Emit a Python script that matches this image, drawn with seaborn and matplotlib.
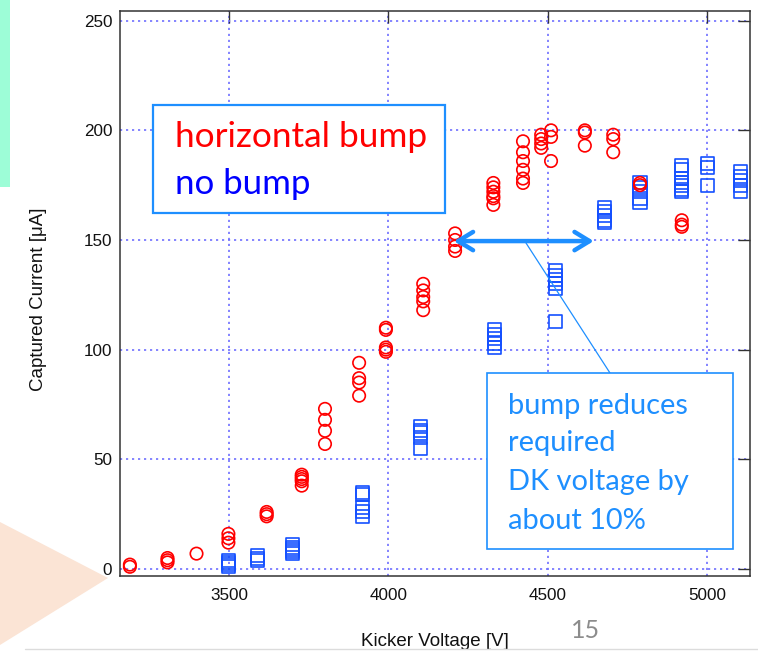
import matplotlib
matplotlib.use("Agg")
import matplotlib.pyplot as plt
import matplotlib.patches as mpatches
import matplotlib.lines as mlines
import seaborn as sns
import pandas as pd

# ---------------- data ----------------
bump_voltage = [3189, 3307, 3398, 3498, 3618, 3728, 3801, 3908, 3992, 4109,
                4209, 4329, 4422, 4479, 4510, 4616, 4705, 4789, 4920]
bump_current = [[2, 1], [5, 4, 3], [7], [16, 14, 12], [26, 25, 24],
                [43, 42, 41, 40, 38], [73, 68, 63, 57], [94, 87, 85, 79],
                [110, 109, 101, 100, 99], [130, 127, 124, 122, 118],
                [153, 150, 147, 145], [176, 174, 172, 170, 169, 166],
                [195, 190, 186, 182, 178, 176], [198, 196, 194, 192],
                [200, 197, 186], [200, 199, 193], [198, 196, 190],
                [176, 175], [159, 157, 156]]

nobump_voltage = [3498, 3590, 3700, 3919, 4102, 4332, 4525, 4679, 4789, 4920, 5002, 5105]
nobump_current = [[4, 3, 2, 1], [6, 5, 4], [11, 10, 9, 8, 7],
                  [35, 34, 28, 26, 24], [65, 63, 62, 60, 55],
                  [109, 107, 105, 103, 101], [136, 134, 132, 130, 128, 113],
                  [165, 163, 161, 159, 158], [176, 174, 172, 169, 167],
                  [184, 182, 178, 176, 175, 173, 172], [185, 183, 175],
                  [181, 179, 177, 175, 172]]

x_ticks = [3500, 4000, 4500, 5000]
y_ticks = [0, 50, 100, 150, 200, 250]
series_names = ["horizontal bump", "no bump"]
x_label = "Kicker Voltage [V]"
y_label = "Captured Current [\u03bcA]"
note_lines = ["bump reduces", "required", "DK voltage by", "about 10%"]
page_number = "15"


def expand(volts, currents, name):
    rows = []
    for v, cs in zip(volts, currents):
        for c in cs:
            rows.append({"V": v, "I": c, "series": name})
    return rows


df_bump = pd.DataFrame(expand(bump_voltage, bump_current, series_names[0]))
df_nobump = pd.DataFrame(expand(nobump_voltage, nobump_current, series_names[1]))

# ---------------- figure ----------------
sns.set_theme(style="white")
plt.rcParams["font.family"] = ["Liberation Sans", "DejaVu Sans"]

W, H = 758, 652
fig = plt.figure(figsize=(W / 100, H / 100), dpi=100)
fig.patch.set_facecolor("white")


def fx(x):
    return x / W


def fy(y):
    return 1 - y / H


ax_l, ax_r, ax_t, ax_b = 120, 750, 11, 576
ax = fig.add_axes([fx(ax_l), fy(ax_b), (ax_r - ax_l) / W, (ax_b - ax_t) / H])
ax.set_facecolor("white")

RED = "#ff0000"
BLUE = "#1450ff"

sns.scatterplot(data=df_nobump, x="V", y="I", marker="s", s=88, color=BLUE,
                ax=ax, legend=False, zorder=3)
sns.scatterplot(data=df_bump, x="V", y="I", marker="o", s=80, color=RED,
                ax=ax, legend=False, zorder=4)
for coll, col in zip(ax.collections, [BLUE, RED]):
    coll.set_facecolor("none")
    coll.set_edgecolor(col)
    coll.set_linewidth(1.2)

ax.set_xlim(3158, 5134)
ax.set_ylim(-3.2, 254.4)
ax.set_xticks(x_ticks)
ax.set_yticks(y_ticks)
ax.set_xticklabels([str(t) for t in x_ticks])
ax.set_yticklabels([str(t) for t in y_ticks])

ax.set_axisbelow(True)
ax.grid(True, color="#7070ff", linestyle=(0, (1.3, 2.3)), linewidth=1.2)
for sp in ax.spines.values():
    sp.set_visible(True)
    sp.set_color("#333333")
    sp.set_linewidth(1.1)
ax.tick_params(axis="both", which="major", direction="in", length=8.6, width=1.0,
               color="#333333", top=True, right=True, labelsize=12.3,
               labelcolor="#111111")
ax.tick_params(axis="x", pad=9)
ax.tick_params(axis="y", pad=5.5)

ax.set_xlabel(x_label, fontsize=13.5, color="#111111")
ax.set_ylabel(y_label, fontsize=13.5, color="#111111")
ax.xaxis.label.set_va("center")
ax.xaxis.set_label_coords(0.5, (ax_b - 641) / (ax_b - ax_t))
ax.yaxis.label.set_va("center")
ax.yaxis.set_label_coords((38 - ax_l) / (ax_r - ax_l), (ax_b - 299) / (ax_b - ax_t))

# ---------------- slide decorations ----------------
fig.add_artist(mpatches.Rectangle((0, fy(187)), fx(10), 187 / H, transform=fig.transFigure,
                                  facecolor="#9dfdd7", edgecolor="none", zorder=0))
fig.add_artist(mpatches.Polygon([(fx(0), fy(522)), (fx(108), fy(578)), (fx(0), fy(645))],
                                closed=True, transform=fig.transFigure,
                                facecolor="#fbe4d5", edgecolor="none", zorder=0.5))
fig.add_artist(mlines.Line2D([fx(25), fx(758)], [fy(649), fy(649)], transform=fig.transFigure,
                             color="#dcdcdc", lw=1.0, zorder=1))

SB = "#1e8fff"
# arrow and leader line (data coordinates)
ax.annotate("", xy=(4205, 149.5), xytext=(4644, 149.5),
            arrowprops=dict(arrowstyle="<->,head_length=0.9,head_width=0.55",
                            color=SB, lw=3.2, shrinkA=0, shrinkB=0), zorder=6)
fig.add_artist(mlines.Line2D([fx(526), fx(610)], [fy(243), fy(373)], transform=fig.transFigure,
                             color=SB, lw=0.9, zorder=6))

# text boxes
fig.add_artist(mpatches.Rectangle((fx(153), fy(213)), (445 - 153) / W, (213 - 105) / H,
                                  transform=fig.transFigure, facecolor="white",
                                  edgecolor=SB, lw=1.6, zorder=7))
fig.add_artist(mpatches.Rectangle((fx(487), fy(549)), (733 - 487) / W, (549 - 373) / H,
                                  transform=fig.transFigure, facecolor="white",
                                  edgecolor=SB, lw=1.2, zorder=7))

renderer = fig.canvas.get_renderer()


def fitted_text(x, y, s, target_w, color, family="Lato", size=20, **kw):
    t = fig.text(fx(x), fy(y), s, color=color, fontsize=size, family=family,
                 ha="left", va="baseline", zorder=8, **kw)
    w = t.get_window_extent(renderer).width
    t.set_fontsize(size * target_w / w)
    return t


fitted_text(175, 147, series_names[0], 253, "#ff0000")
fitted_text(175, 194, series_names[1], 136, "#0000ff")
base = fitted_text(508, 414, note_lines[0], 181, SB)
fs = base.get_fontsize()
for line, yb in zip(note_lines[1:], [451, 490, 529]):
    fig.text(fx(508), fy(yb), line, color=SB, fontsize=fs, family="Lato",
             ha="left", va="baseline", zorder=8)

fitted_text(571, 638, page_number, 29, "#8c8c8c")

fig.savefig("out.png", dpi=100, facecolor="white")
